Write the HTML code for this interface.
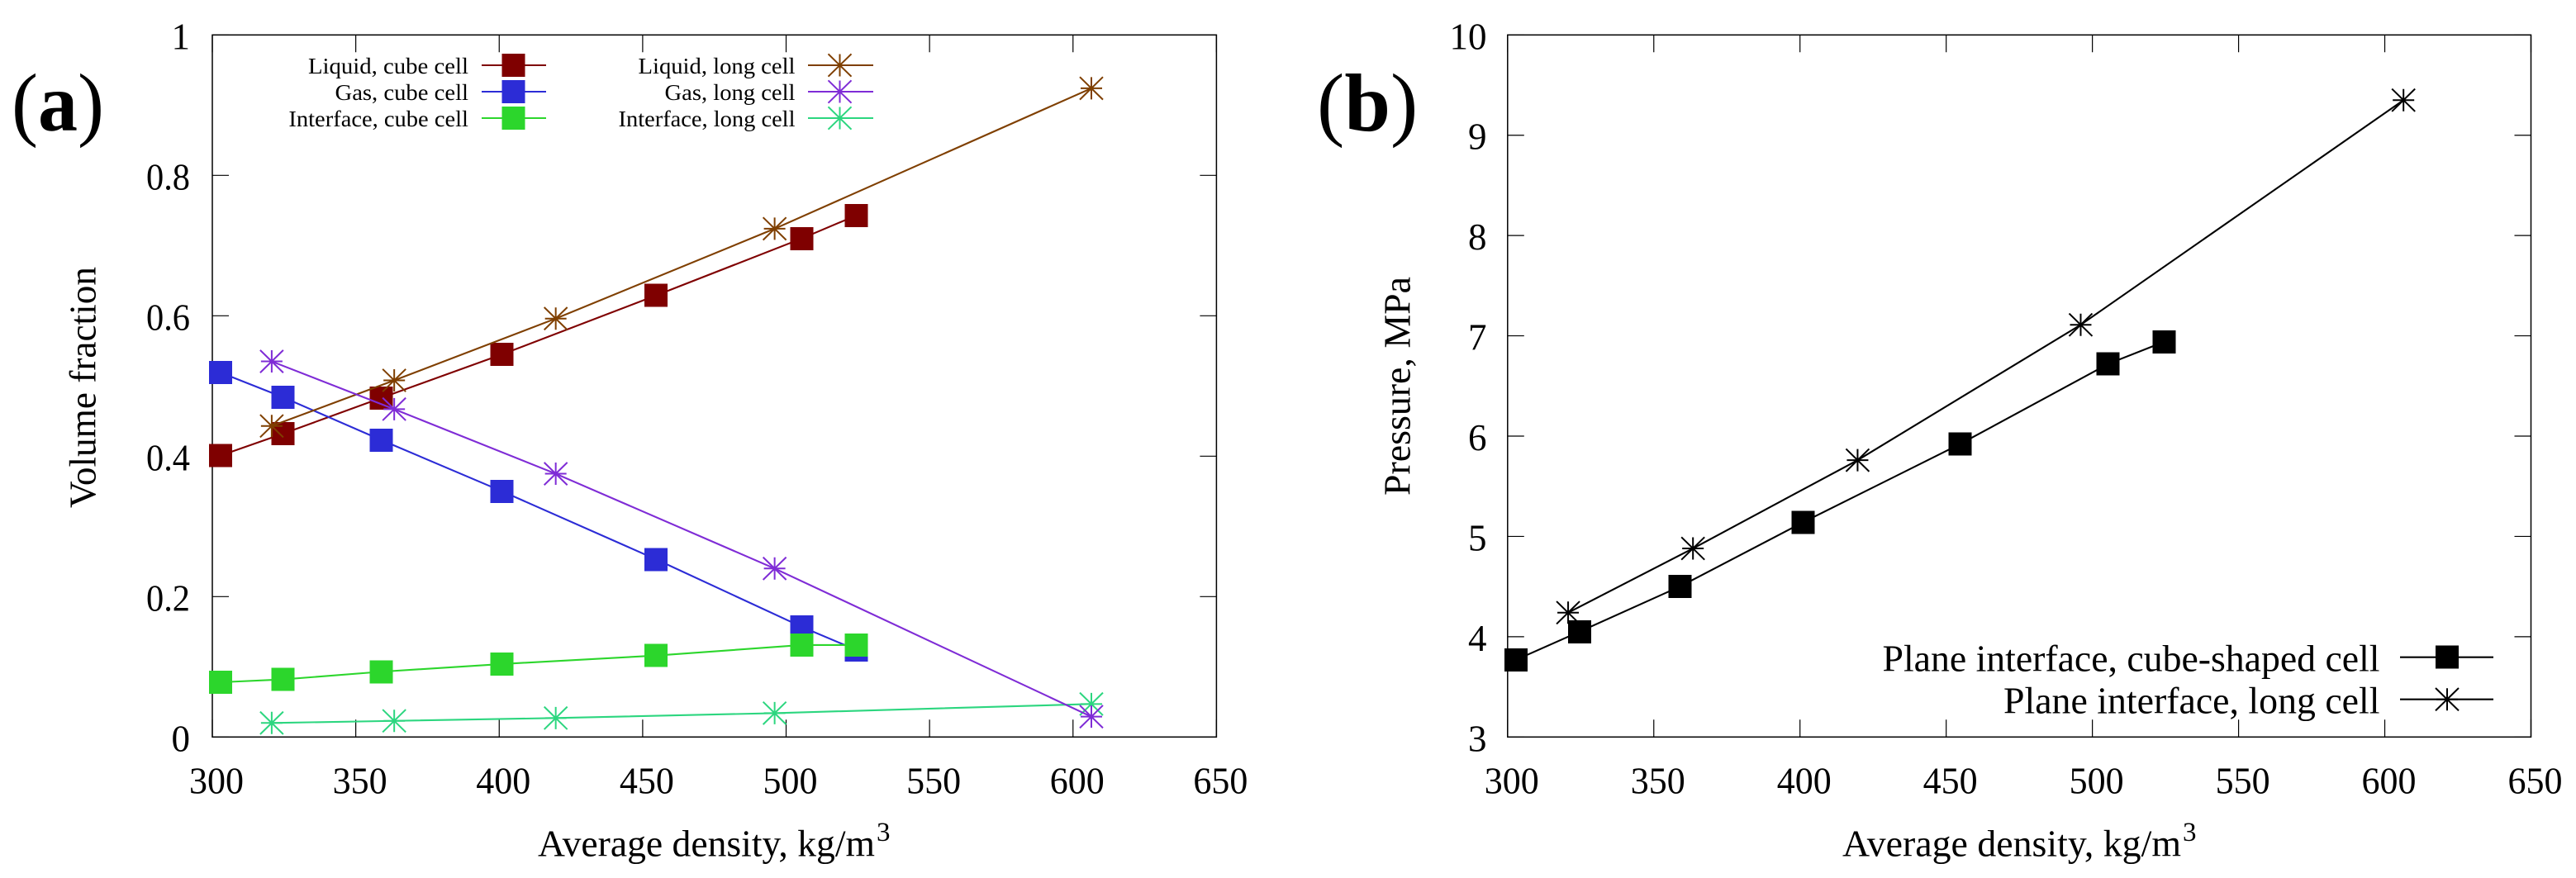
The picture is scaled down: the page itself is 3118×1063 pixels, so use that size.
<!DOCTYPE html>
<html lang="en">
<head>
<meta charset="utf-8">
<title>Volume fraction and pressure versus average density</title>
<style>
html,body{margin:0;padding:0;background:#fff;width:3118px;height:1063px;overflow:hidden}
svg{display:block}
text{font-family:"Liberation Serif",serif;fill:#000}
</style>
</head>
<body>
<svg id="figure" xmlns="http://www.w3.org/2000/svg" width="3118" height="1063" viewBox="0 0 3118 1063">
  <rect x="0" y="0" width="3118" height="1063" fill="#fff"/>
  <text x="14" y="158" font-size="100" textLength="112" lengthAdjust="spacingAndGlyphs">(<tspan font-weight="bold">a</tspan>)</text>
  <text x="1594" y="158" font-size="100">(<tspan font-weight="bold">b</tspan>)</text>
  <g id="chart-a"></g>
  <g id="chart-b"></g>
  <text x="651" y="1036.7" font-size="46" textLength="408" lengthAdjust="spacingAndGlyphs">Average density, kg/m</text>
  <text x="1061" y="1018" font-size="33">3</text>
  <text x="2230" y="1036.7" font-size="46" textLength="410" lengthAdjust="spacingAndGlyphs">Average density, kg/m</text>
  <text x="2642" y="1018" font-size="33">3</text>
  <text transform="translate(115.7 615) rotate(-90)" font-size="46" textLength="292" lengthAdjust="spacingAndGlyphs">Volume fraction</text>
  <text transform="translate(1706.7 600) rotate(-90)" font-size="46" textLength="265" lengthAdjust="spacingAndGlyphs">Pressure, MPa</text>
</svg>
<script>
// Shared density categories (kg/m3)
const cubeDensity = [302.9, 324.6, 358.9, 401, 454.7, 505.4, 524.5];
const longDensity = [320.7, 363.4, 419.7, 496, 606.4];

// Panel (a): volume fractions
const liquidCube = [0.401, 0.432, 0.483, 0.545, 0.629, 0.710, 0.743];
const gasCube = [0.519, 0.484, 0.423, 0.350, 0.253, 0.157, 0.124];
const interfaceCube = [0.078, 0.082, 0.093, 0.104, 0.116, 0.131, 0.131];
const liquidLong = [0.443, 0.508, 0.596, 0.724, 0.924];
const gasLong = [0.535, 0.467, 0.375, 0.240, 0.029];
const interfaceLong = [0.020, 0.023, 0.027, 0.034, 0.047];

// Panel (b): pressure, MPa
const pressureCube = [3.77, 4.05, 4.50, 5.14, 5.92, 6.72, 6.94];
const pressureLong = [4.24, 4.88, 5.76, 7.11, 9.35];

// Tick labels
const xTicks = [300, 350, 400, 450, 500, 550, 600, 650];
const yTicksA = ['0', '0.2', '0.4', '0.6', '0.8', '1'];
const yTicksB = ['3', '4', '5', '6', '7', '8', '9', '10'];

const NS = 'http://www.w3.org/2000/svg';

function make(parent, tag, attrs) {
  const el = document.createElementNS(NS, tag);
  for (const k in attrs) el.setAttribute(k, attrs[k]);
  parent.appendChild(el);
  return el;
}

function scale(d0, d1, r0, r1) {
  return v => r0 + (v - d0) * (r1 - r0) / (d1 - d0);
}

function drawSquare(g, cx, cy, color, name) {
  const el = make(g, 'rect', { x: cx - 14, y: cy - 14, width: 28, height: 28, fill: color, 'shape-rendering': 'crispEdges' });
  
  
}

function drawStar(g, cx, cy, color, name) {
  const d = 'M' + (cx - 13) + ' ' + cy + 'H' + (cx + 13) +
            'M' + cx + ' ' + (cy - 13.5) + 'V' + (cy + 13.5) +
            'M' + (cx - 14) + ' ' + (cy - 13.7) + 'L' + (cx + 14) + ' ' + (cy + 13.7) +
            'M' + (cx - 14) + ' ' + (cy + 13.7) + 'L' + (cx + 14) + ' ' + (cy - 13.7);
  const el = make(g, 'path', { d: d, fill: 'none', stroke: color, 'stroke-width': 2 });
  
  
}

function drawLabel(g, x, y, str, size, anchor, name, len) {
  const el = make(g, 'text', { x: x, y: y, 'font-size': size, 'text-anchor': anchor });
  if (len) {
    el.setAttribute('textLength', len);
    el.setAttribute('lengthAdjust', 'spacingAndGlyphs');
  }
  el.textContent = str;
  
  
}

function drawFrame(g, box, sx, sy, yVals, yLabels, yLabelRight, suffix) {
  const frame = make(g, 'rect', { x: box.l, y: box.t, width: box.r - box.l, height: box.b - box.t, fill: 'none', stroke: '#000', 'stroke-width': 1.5 });
  
  
  xTicks.forEach(v => {
    const x = sx(v);
    const tick = make(g, 'path', { d: 'M' + x + ' ' + box.t + 'v21M' + x + ' ' + box.b + 'v-21', stroke: '#000', 'stroke-width': 1.2, fill: 'none' });
    
    
    drawLabel(g, x + 5, 960.5, String(v), 45, 'middle', 'x-tick-label-' + suffix + '-' + v, 66);
  });
  yVals.forEach((v, i) => {
    const y = sy(v);
    const tick = make(g, 'path', { d: 'M' + box.l + ' ' + y + 'h20M' + box.r + ' ' + y + 'h-20', stroke: '#000', 'stroke-width': 1.2, fill: 'none' });
    
    
    const lab = yLabels[i];
    drawLabel(g, yLabelRight, y + 17, lab, 45, 'end', 'y-tick-label-' + suffix + '-' + lab, lab.length === 3 ? 53 : 0);
  });
}

function drawSeries(g, xs, ys, sx, sy, color, marker, name) {
  const pts = xs.map((v, i) => sx(v) + ',' + sy(ys[i])).join(' ');
  const line = make(g, 'polyline', { points: pts, fill: 'none', stroke: color, 'stroke-width': 2.1 });
  
  
  xs.forEach((v, i) => marker(g, sx(v), sy(ys[i]), color, name + '-point-' + (i + 1)));
}

function drawLegendRow(g, textRight, cy, lineL, lineR, markerX, label, color, marker, size, textLen, baseOff, name) {
  drawLabel(g, textRight, cy + baseOff, label, size, 'end', name + '-label', textLen);
  const line = make(g, 'line', { x1: lineL, x2: lineR, y1: cy, y2: cy, stroke: color, 'stroke-width': 2.1 });
  
  
  marker(g, markerX, cy, color, name + '-marker');
}

// Panel (a)
const gA = document.getElementById('chart-a');
const boxA = { l: 257, r: 1472.4, t: 42.3, b: 892.3 };
const sxA = scale(300, 650, boxA.l, boxA.r);
const syA = scale(0, 1, boxA.b, boxA.t);
drawFrame(gA, boxA, sxA, syA, yTicksA.map(Number), yTicksA, 230, 'a');
const RED = '#7f0000', BLUE = '#2c2cd6', GREEN = '#2cd62c', BROWN = '#7f3f00', PURPLE = '#7f2cd6', TEAL = '#2cd67f';
drawSeries(gA, cubeDensity, liquidCube, sxA, syA, RED, drawSquare, 'liquid-cube');
drawSeries(gA, cubeDensity, gasCube, sxA, syA, BLUE, drawSquare, 'gas-cube');
drawSeries(gA, cubeDensity, interfaceCube, sxA, syA, GREEN, drawSquare, 'interface-cube');
drawSeries(gA, longDensity, liquidLong, sxA, syA, BROWN, drawStar, 'liquid-long');
drawSeries(gA, longDensity, interfaceLong, sxA, syA, TEAL, drawStar, 'interface-long');
drawSeries(gA, longDensity, gasLong, sxA, syA, PURPLE, drawStar, 'gas-long');
drawLegendRow(gA, 567, 79, 583, 661, 621.5, 'Liquid, cube cell', RED, drawSquare, 27.7, 194, 10, 'legend-liquid-cube');
drawLegendRow(gA, 567, 111, 583, 661, 621.5, 'Gas, cube cell', BLUE, drawSquare, 27.7, 161.5, 10, 'legend-gas-cube');
drawLegendRow(gA, 567, 143, 583, 661, 621.5, 'Interface, cube cell', GREEN, drawSquare, 27.7, 217.6, 10, 'legend-interface-cube');
drawLegendRow(gA, 962.5, 79, 978, 1057, 1016.5, 'Liquid, long cell', BROWN, drawStar, 27.7, 190, 10, 'legend-liquid-long');
drawLegendRow(gA, 962.5, 111, 978, 1057, 1016.5, 'Gas, long cell', PURPLE, drawStar, 27.7, 158, 10, 'legend-gas-long');
drawLegendRow(gA, 962.5, 143, 978, 1057, 1016.5, 'Interface, long cell', TEAL, drawStar, 27.7, 214, 10, 'legend-interface-long');

// Panel (b)
const gB = document.getElementById('chart-b');
const boxB = { l: 1824.8, r: 3063.5, t: 42.3, b: 892.3 };
const sxB = scale(300, 650, boxB.l, boxB.r);
const syB = scale(3, 10, boxB.b, boxB.t);
drawFrame(gB, boxB, sxB, syB, yTicksB.map(Number), yTicksB, 1799.5, 'b');
drawSeries(gB, cubeDensity, pressureCube, sxB, syB, '#000', drawSquare, 'pressure-cube');
drawSeries(gB, longDensity, pressureLong, sxB, syB, '#000', drawStar, 'pressure-long');
drawLegendRow(gB, 2880.5, 795.7, 2905, 3018, 2962, 'Plane interface, cube-shaped cell', '#000', drawSquare, 46, 602, 16.6, 'legend-pressure-cube');
drawLegendRow(gB, 2880.5, 846.7, 2905, 3018, 2962, 'Plane interface, long cell', '#000', drawStar, 46, 455.5, 16.6, 'legend-pressure-long');
</script>
</body>
</html>
